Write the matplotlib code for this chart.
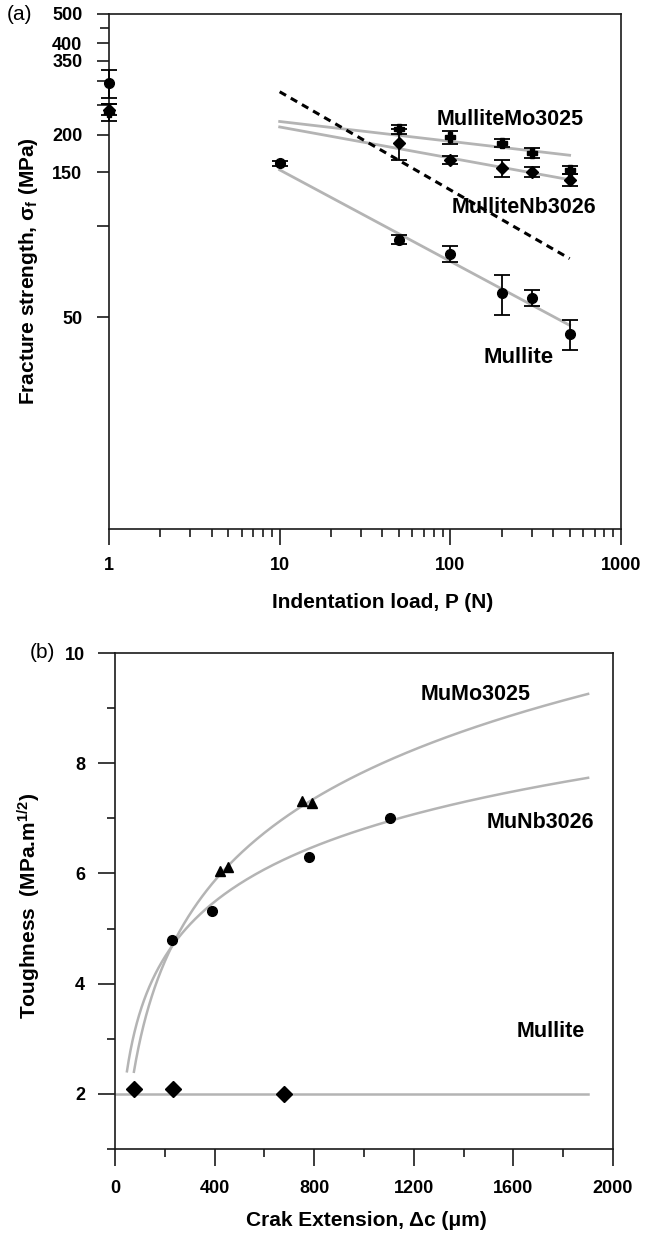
import numpy as np
import matplotlib
matplotlib.use("Agg")
import matplotlib.pyplot as plt
from matplotlib.ticker import FixedLocator, FixedFormatter, NullFormatter

plt.rcParams['font.family'] = ['Liberation Sans', 'DejaVu Sans']
plt.rcParams['mathtext.fontset'] = 'custom'
plt.rcParams['mathtext.rm'] = 'Liberation Sans'
plt.rcParams['mathtext.it'] = 'Liberation Sans:italic'
plt.rcParams['mathtext.bf'] = 'Liberation Sans:bold'

# ---------------- Panel (a): fracture strength vs indentation load ----------------
mullite_load = [1, 10, 50, 100, 200, 300, 500]
mullite_sigma = [296, 161, 90, 81, 60, 58, 44]
mullite_err = [32, 3, 3, 5, 9, 3.5, 5]

mo_load = [1, 50, 100, 200, 300, 500]
mo_sigma = [237, 208, 196, 188, 174, 153]
mo_err = [15, 7, 10, 6, 6, 4.5]

nb_load = [1, 50, 100, 200, 300, 500]
nb_sigma = [242, 187, 165, 155, 151, 142]
nb_err = [10, 22, 5.5, 10, 5.5, 6.5]

fit_load = [10, 500]
mullite_fit = [153, 47]
mo_fit = [221, 171]
nb_fit = [212, 142]
dashed_fit = [277, 78]

a_xticks = [1, 10, 100, 1000]
a_xticklabels = ['1', '10', '100', '1000']
a_yticks = [50, 100, 150, 200, 250, 300, 350, 400, 500]
a_yticklabels = ['50', '', '150', '200', '', '', '350', '400', '500']

# ---------------- Panel (b): toughness vs crack extension ----------------
mullite_dc = [76, 231, 680]
mullite_K = [2.09, 2.09, 2.0]

mo_dc = [421, 453, 750, 790]
mo_K = [6.04, 6.11, 7.31, 7.28]

nb_dc = [230, 391, 780, 1103]
nb_K = [4.8, 5.31, 6.30, 7.01]

# fitted R-curve traces
mo_curve_dc = [76, 230, 440, 773, 1900]
mo_curve_K = [2.4, 4.7, 6.07, 7.28, 9.26]
nb_curve_dc = [48, 230, 391, 780, 1103, 1900]
nb_curve_K = [2.4, 4.75, 5.4, 6.42, 6.98, 7.74]
mullite_level_dc = [0, 1900]
mullite_level_K = [2.0, 2.0]

b_xticks = [0, 400, 800, 1200, 1600, 2000]
b_yticks = [2, 4, 6, 8, 10]

FIT_GRAY = '#b4b4b4'
SPINE = '#1a1a1a'

fig = plt.figure(figsize=(6.45, 12.33), dpi=100)

# ---------- (a) ----------
ax = fig.add_axes([109 / 645, 1 - 529 / 1233, 512 / 645, 515 / 1233])
ax.set_xscale('log')
ax.set_yscale('log')

ax.plot(fit_load, mullite_fit, color=FIT_GRAY, lw=2.0, zorder=2)
ax.plot(fit_load, mo_fit, color=FIT_GRAY, lw=2.0, zorder=2)
ax.plot(fit_load, nb_fit, color=FIT_GRAY, lw=2.0, zorder=2)
ax.plot(fit_load, dashed_fit, color='black', lw=2.2, ls=(0, (2.4, 1.8)), zorder=2)

ekw = dict(color='black', capsize=6, elinewidth=1.3, capthick=1.3, zorder=3, linestyle='none')
for xs_, ys_, es_, mk, ms_ in ((mullite_load, mullite_sigma, mullite_err, 'o', 7),
                               (mo_load, mo_sigma, mo_err, 'P', 7),
                               (nb_load, nb_sigma, nb_err, 'D', 6)):
    cont = ax.errorbar(xs_, ys_, yerr=es_, marker=mk, ms=ms_, **ekw)
    for art in cont.get_children():
        art.set_clip_on(False)

ax.set_xlim(1, 1000)
ax.set_ylim(10, 500)
ax.xaxis.set_major_locator(FixedLocator(a_xticks))
ax.xaxis.set_major_formatter(FixedFormatter(a_xticklabels))
ax.xaxis.set_minor_locator(FixedLocator([m * d for d in (1, 10, 100) for m in range(2, 10)]))
ax.xaxis.set_minor_formatter(NullFormatter())
ax.yaxis.set_major_locator(FixedLocator(a_yticks))
ax.yaxis.set_major_formatter(FixedFormatter(a_yticklabels))
ax.yaxis.set_minor_locator(FixedLocator([450]))
ax.yaxis.set_minor_formatter(NullFormatter())

ax.tick_params(axis='x', which='major', direction='out', length=11.5, width=1.2, pad=9, labelsize=13, color=SPINE)
ax.tick_params(axis='x', which='minor', direction='out', length=5.8, width=1.2, color=SPINE)
ax.tick_params(axis='y', which='major', direction='out', length=8.6, width=1.2, pad=10.5, labelsize=13, color=SPINE)
ax.tick_params(axis='y', which='minor', direction='out', length=6.5, width=1.2, color=SPINE)
for lab in ax.get_xticklabels() + ax.get_yticklabels():
    lab.set_fontweight('bold')
for sp in ax.spines.values():
    sp.set_linewidth(1.2)
    sp.set_color(SPINE)

ax.set_xlabel('Indentation load, P (N)', fontsize=15, fontweight='bold', va='center')
ax.xaxis.set_label_coords(0.535, -0.142)
ax.set_ylabel('Fracture strength, σ$_\\mathregular{f}$ (MPa)', fontsize=15, fontweight='bold', va='center')
ax.yaxis.set_label_coords(-0.158, 0.5)

ax.text(224, 225, 'MulliteMo3025', fontsize=15.5, fontweight='bold', ha='center', va='center', zorder=4)
ax.text(269, 115, 'MulliteNb3026', fontsize=15.5, fontweight='bold', ha='center', va='center', zorder=4)
ax.text(250, 36.9, 'Mullite', fontsize=16, fontweight='bold', ha='center', va='center', zorder=4)

fig.text(20 / 645, 1 - 14 / 1233, '(a)', fontsize=15, ha='center', va='center')

# ---------- (b) ----------
bx = fig.add_axes([115 / 645, 1 - 1149 / 1233, 498 / 645, 496 / 1233])

for cdc, cK in ((mo_curve_dc, mo_curve_K), (nb_curve_dc, nb_curve_K)):
    coef = np.polyfit(np.log(cdc), cK, 2)
    xs = np.geomspace(min(cdc), max(cdc), 300)
    bx.plot(xs, np.polyval(coef, np.log(xs)), color=FIT_GRAY, lw=1.8, zorder=2)
bx.plot(mullite_level_dc, mullite_level_K, color=FIT_GRAY, lw=1.8, zorder=2)

bx.plot(mullite_dc, mullite_K, linestyle='none', marker='D', ms=8, color='black', zorder=3)
bx.plot(mo_dc, mo_K, linestyle='none', marker='^', ms=7, color='black', zorder=3)
bx.plot(nb_dc, nb_K, linestyle='none', marker='o', ms=7, color='black', zorder=3)

bx.set_xlim(0, 2000)
bx.set_ylim(1, 10)
bx.xaxis.set_major_locator(FixedLocator(b_xticks))
bx.xaxis.set_minor_locator(FixedLocator([200, 600, 1000, 1400, 1800]))
bx.yaxis.set_major_locator(FixedLocator(b_yticks))
bx.yaxis.set_minor_locator(FixedLocator([1, 3, 5, 7, 9]))
bx.tick_params(axis='both', which='major', direction='out', length=12.2, width=1.2, labelsize=13, color=SPINE)
bx.tick_params(axis='both', which='minor', direction='out', length=5.8, width=1.2, color=SPINE)
bx.tick_params(axis='x', which='major', pad=10)
bx.tick_params(axis='y', which='major', pad=9.4)
for lab in bx.get_xticklabels() + bx.get_yticklabels():
    lab.set_fontweight('bold')
for sp in bx.spines.values():
    sp.set_linewidth(1.2)
    sp.set_color(SPINE)

bx.set_xlabel('Crak Extension, Δc (μm)', fontsize=15, fontweight='bold', va='center')
bx.xaxis.set_label_coords(0.505, -0.145)
bx.set_ylabel('Toughness  (MPa.m$^{\\mathbf{1/2}}$)', fontsize=15, fontweight='bold', va='center')
bx.yaxis.set_label_coords(-0.171, 0.49)

bx.text(1450, 9.24, 'MuMo3025', fontsize=15.5, fontweight='bold', ha='center', va='center')
bx.text(1707, 6.92, 'MuNb3026', fontsize=15.5, fontweight='bold', ha='center', va='center')
bx.text(1751, 3.13, 'Mullite', fontsize=15.5, fontweight='bold', ha='center', va='center')

fig.text(42 / 645, 1 - 653 / 1233, '(b)', fontsize=15, ha='center', va='center')

fig.savefig('out.png', dpi=100)
